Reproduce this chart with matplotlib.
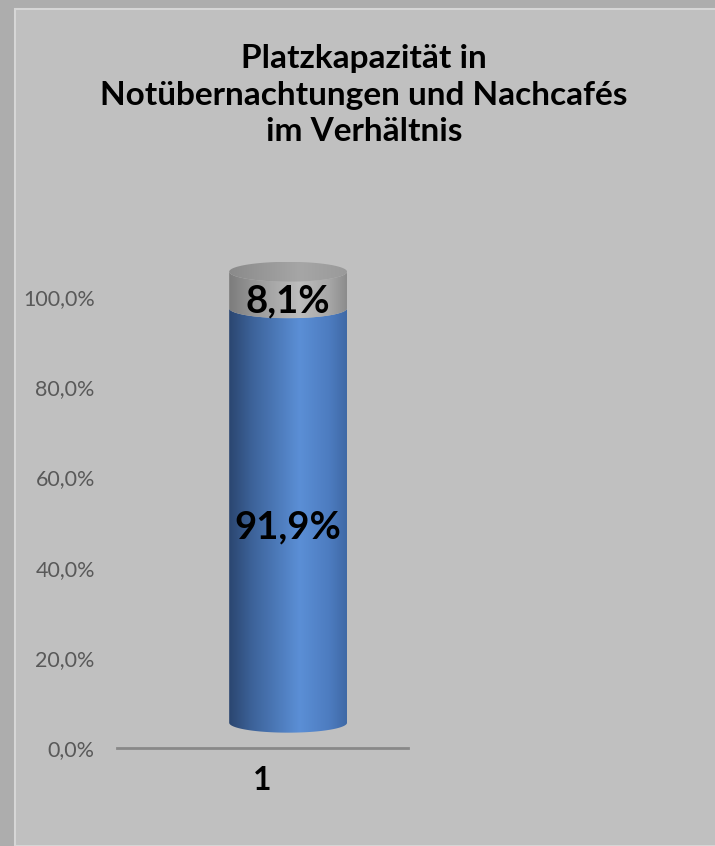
import numpy as np
import matplotlib
matplotlib.use("Agg")
import matplotlib.pyplot as plt
from matplotlib.patches import Rectangle, Polygon
from matplotlib.colors import LinearSegmentedColormap

# data
categories = ["1"]
series_names = ["Notübernachtungen", "Nachtcafés"]
shares = [0.919, 0.081]
share_labels = ["91,9%", "8,1%"]
tick_values = [0.0, 0.2, 0.4, 0.6, 0.8, 1.0]
tick_labels = ["0,0%", "20,0%", "40,0%", "60,0%", "80,0%", "100,0%"]
title = "Platzkapazität in\nNotübernachtungen und Nachcafés\nim Verhältnis"

plt.rcParams['font.family'] = ['Lato', 'DejaVu Sans']

W, H = 715, 846
fig = plt.figure(figsize=(W / 100, H / 100), dpi=100)
fig.patch.set_facecolor("#adadad")
fig.patches.append(Rectangle((15 / W, 0), 1, 1 - 9 / H, transform=fig.transFigure,
                             facecolor="#c0c0c0", edgecolor="#d6d6d6", linewidth=1.5,
                             zorder=-1))

# axes: 0% at y=748px, 100% at 297px, x from 117 to 408px
ymax = 1.1
ax = fig.add_axes([117 / W, (H - 748) / H, 291 / W, 451 * ymax / H])
ax.set_facecolor("none")
ax.set_xlim(0.5, 1.5)
ax.set_ylim(0, ymax)
for s in ["top", "right", "left"]:
    ax.spines[s].set_visible(False)
ax.spines["bottom"].set_color("#888888")
ax.spines["bottom"].set_linewidth(2)
ax.set_yticks(tick_values)
ax.set_yticklabels(tick_labels)
ax.set_xticks([1])
ax.set_xticklabels(categories)
ax.tick_params(axis="y", length=0, pad=16, labelsize=15.5, labelcolor="#595959")
ax.tick_params(axis="x", length=0, pad=13, labelsize=23)
for t in ax.get_xticklabels():
    t.set_fontweight("bold")

fig.text(364 / W, 1 - 95 / H, title, ha="center", va="center", fontsize=24,
         fontweight="bold", linespacing=1.33)

blue_cmap = LinearSegmentedColormap.from_list(
    "blue", [(0, "#2b4670"), (0.2, "#3d639a"), (0.6, "#5b8fd6"), (0.85, "#4d7cc0"), (1, "#3f69a6")])
gray_cmap = LinearSegmentedColormap.from_list(
    "gray", [(0, "#7c7c7c"), (0.25, "#9c9c9c"), (0.6, "#bdbdbd"), (0.85, "#a7a7a7"), (1, "#8c8c8c")])
cap_cmap = LinearSegmentedColormap.from_list(
    "cap", [(0, "#8a8a8a"), (0.6, "#a6a6a6"), (1, "#9a9a9a")])

# cylinder geometry (3d offset like excel)
dx, dy = 0.088, 0.056
a, b = 0.2025, 0.022
xc = 1 + dx
t = np.linspace(np.pi, 2 * np.pi, 60)
grad = np.linspace(0, 1, 256).reshape(1, -1)


def front_arc(y, reverse=False):
    pts = np.column_stack([xc + a * np.cos(t), y + b * np.sin(t)])
    return pts[::-1] if reverse else pts


def shaded(poly_pts, cmap, y0, y1):
    poly = Polygon(poly_pts, closed=True, facecolor="none", edgecolor="none")
    ax.add_patch(poly)
    im = ax.imshow(grad, cmap=cmap, aspect="auto", extent=[xc - a, xc + a, y0, y1],
                   origin="lower", interpolation="bilinear", zorder=2)
    im.set_clip_path(poly)


bottom = dy
for val, cmap in zip(shares, [blue_cmap, gray_cmap]):
    top = bottom + val
    pts = np.vstack([front_arc(bottom), front_arc(top, reverse=True)])
    shaded(pts, cmap, bottom - b, top)
    bottom = top

# top cap
tt = np.linspace(0, 2 * np.pi, 120)
cap = np.column_stack([xc + a * np.cos(tt), bottom + b * np.sin(tt)])
shaded(cap, cap_cmap, bottom - b, bottom + b)

# labels, excel puts them a bit below the segment middle
cum = 0
for val, lab in zip(shares, share_labels):
    ax.text(xc, cum + val / 2 + 0.03, lab,
            ha="center", va="center", fontsize=27.5, fontweight="bold", zorder=5)
    cum += val

ax.set_xlim(0.5, 1.5)
ax.set_ylim(0, ymax)

fig.savefig("out.png", dpi=100, facecolor=fig.get_facecolor())
